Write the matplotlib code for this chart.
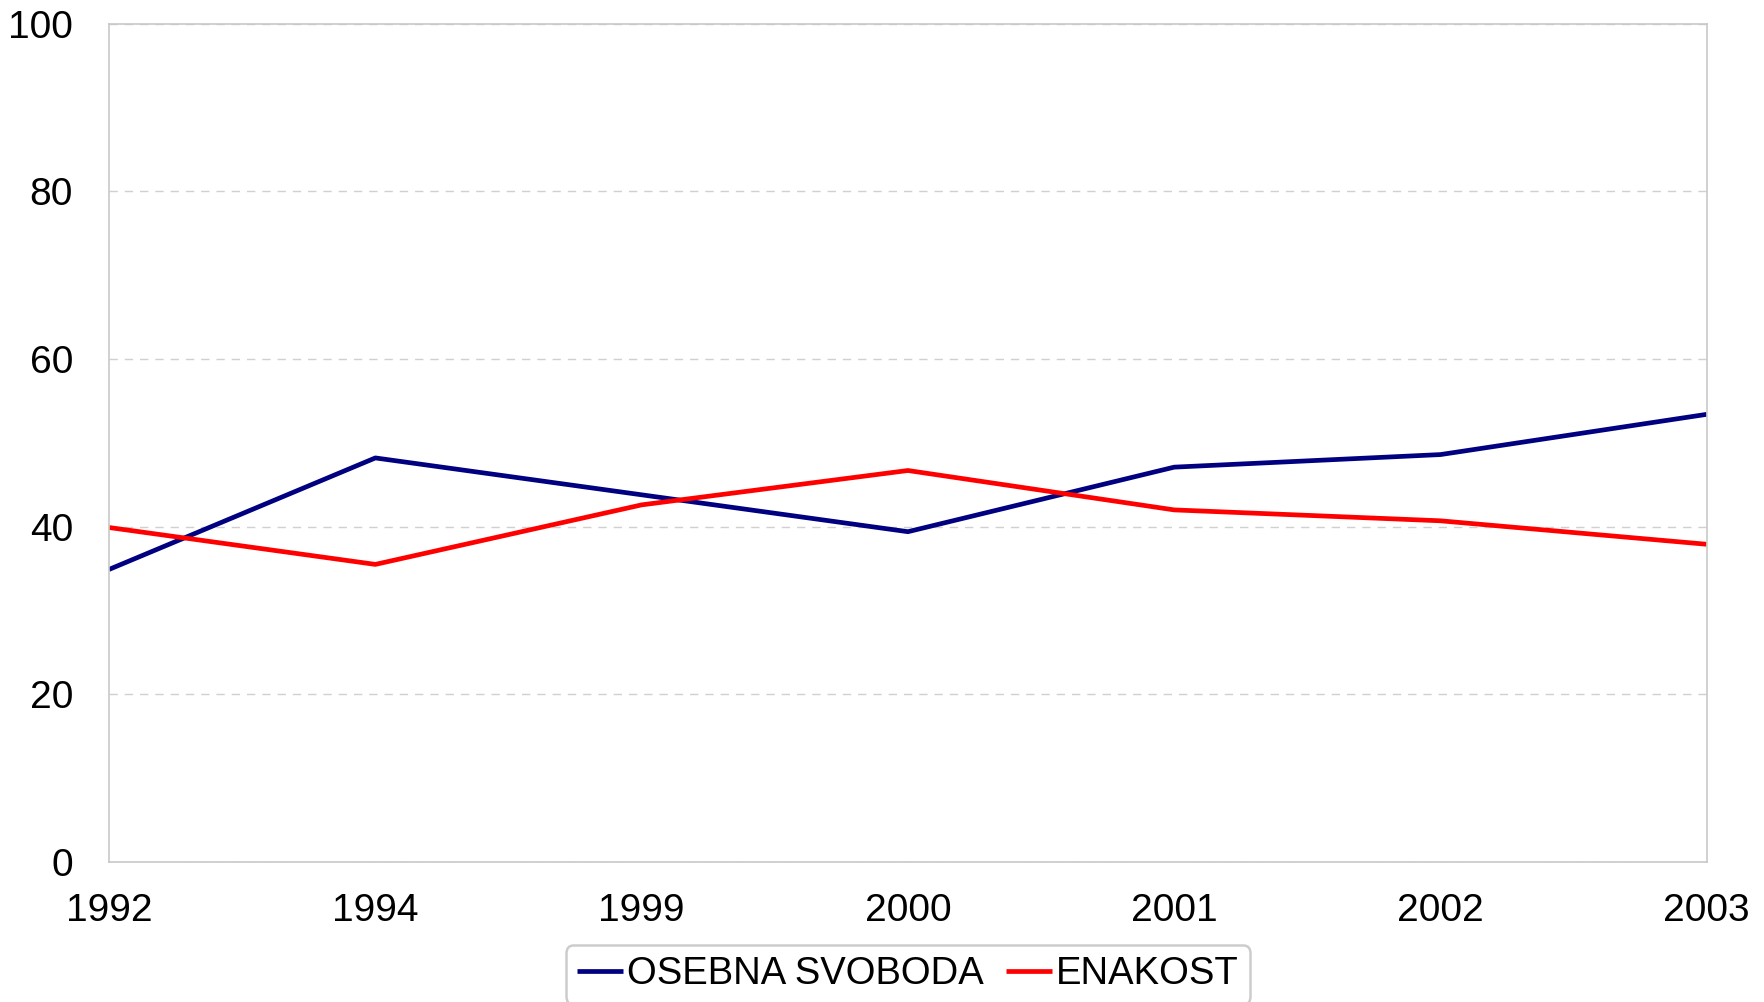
import numpy as np
import matplotlib
matplotlib.use("Agg")
import matplotlib.pyplot as plt

plt.rcParams['font.family'] = ['Liberation Sans', 'DejaVu Sans']

years = ["1992", "1994", "1999", "2000", "2001", "2002", "2003"]
osebna_svoboda = [34.9, 48.2, 43.8, 39.4, 47.1, 48.6, 53.4]
enakost = [39.9, 35.5, 42.6, 46.7, 42.0, 40.7, 37.9]

fig = plt.figure(figsize=(17.65, 10.02), dpi=100)
ax = fig.add_axes([0.0618, 0.1397, 0.9052, 0.8367])

x = np.arange(len(years))
ax.plot(x, osebna_svoboda, color="#000080", lw=3.4, label="OSEBNA SVOBODA", solid_capstyle="butt")
ax.plot(x, enakost, color="#ff0000", lw=3.4, label="ENAKOST", solid_capstyle="butt")

ax.set_xlim(0, len(years) - 1)
ax.set_ylim(0, 100)
ax.set_xticks(x)
ax.set_xticklabels(years)
ax.set_yticks([0, 20, 40, 60, 80, 100])
ax.tick_params(axis="both", length=0, labelsize=28)
ax.tick_params(axis="x", pad=22)
ax.tick_params(axis="y", pad=26)

# dashed horizontal grid
ax.yaxis.grid(True, color="#d0d0d0", linestyle=(0, (6, 5)), lw=1)
ax.set_axisbelow(True)
for s in ax.spines.values():
    s.set_color("#c8c8c8")
    s.set_linewidth(1.2)

leg = ax.legend(loc="center", bbox_to_anchor=(0.5, -0.134), ncol=2,
                fontsize=27.5, frameon=True, fancybox=True, handlelength=1.2,
                handletextpad=0.1, columnspacing=0.6, borderpad=0.3,
                borderaxespad=0)
leg.get_frame().set_edgecolor("#c0c0c0")
leg.get_frame().set_linewidth(1.8)

fig.savefig("out.png", dpi=100)
